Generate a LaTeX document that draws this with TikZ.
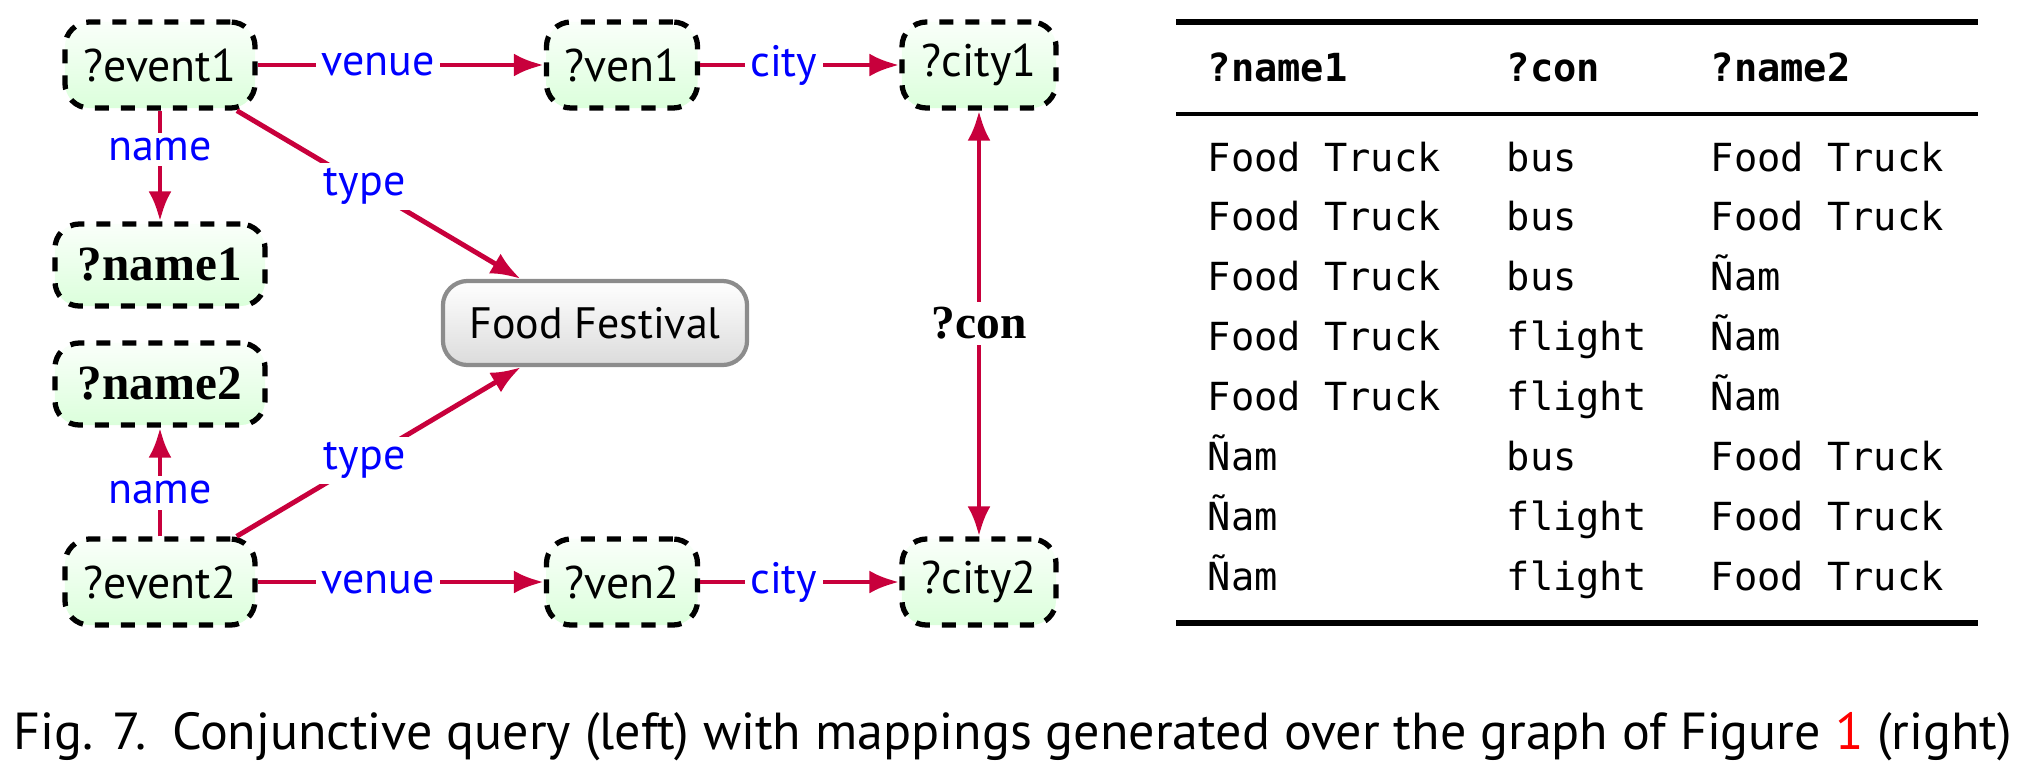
\documentclass[tikz,border=0pt]{standalone}
\usepackage{fontspec}
\setmainfont{Liberation Serif}
\setsansfont{PT Sans}
\setmonofont{DejaVu Sans Mono}
\usetikzlibrary{arrows.meta}
\definecolor{edgered}{RGB}{200,0,60}
\definecolor{lblblue}{RGB}{0,0,255}

\begin{document}
\begin{tikzpicture}[x=0.01cm,y=-0.01cm,
        var/.style={draw=black,line width=1.5pt,dash pattern=on 4pt off 3.4pt,
                rounded corners=7pt,top color=green!2,bottom color=green!14,
                font=\sffamily\fontsize{13}{15}\selectfont,
                minimum height=0.86cm,inner sep=0pt},
        outvar/.style={var,font=\bfseries\fontsize{14}{16}\selectfont,
                minimum width=2.1cm,minimum height=0.82cm},
        lit/.style={draw=gray!90,line width=1.2pt,rounded corners=7pt,
                top color=white,bottom color=gray!28,
                font=\sffamily\fontsize{12.5}{14}\selectfont,
                minimum width=3.04cm,minimum height=0.84cm},
        edge/.style={draw=edgered,line width=1.4pt,-{Latex[length=8.5pt,width=6.5pt]}},
        lbl/.style={fill=white,inner sep=1.5pt,text=lblblue,
                font=\sffamily\fontsize{12.5}{14}\selectfont},
        cell/.style={anchor=base west,inner sep=0pt,font=\ttfamily\fontsize{11}{13}\selectfont}]
        \useasboundingbox (0,0) rectangle (2027,766);

        % query graph
        \node [var,minimum width=1.9cm] (event1) at (160,65) {?event1};
        \node [var,minimum width=1.51cm] (ven1) at (622,65) {?ven1};
        \node [var,minimum width=1.54cm] (city1) at (979,65) {?city1};
        \node [outvar] (name1) at (160,265) {?name1};
        \node [outvar] (name2) at (160,384) {?name2};
        \node [lit] (food) at (595,323) {Food Festival};
        \node [var,minimum width=1.9cm] (event2) at (160,582) {?event2};
        \node [var,minimum width=1.51cm] (ven2) at (622,582) {?ven2};
        \node [var,minimum width=1.54cm] (city2) at (979,582) {?city2};

        \draw [edge] (event1) -- node [lbl,pos=0.42] {venue} (ven1);
        \draw [edge] (ven1) -- node [lbl,pos=0.42] {city} (city1);
        \draw [edge] (event1) -- node [lbl,pos=0.35] {name} (name1);
        \draw [edge] (event1) -- node [lbl,pos=0.45] {type} (food);
        \draw [edge] (event2) -- node [lbl,pos=0.4] {name} (name2);
        \draw [edge] (event2) -- node [lbl,pos=0.45] {type} (food);
        \draw [edge] (event2) -- node [lbl,pos=0.42] {venue} (ven2);
        \draw [edge] (ven2) -- node [lbl,pos=0.42] {city} (city2);
        \draw [edge,{Latex[length=8.5pt,width=6.5pt]}-{Latex[length=8.5pt,width=6.5pt]}] (city1) --
                node [fill=white,inner sep=1.5pt,font=\bfseries\fontsize{13.5}{15}\selectfont] {?con} (city2);

        % mappings table
        \draw [line width=1.6pt] (1176,22) -- (1978,22);
        \draw [line width=0.9pt] (1176,114) -- (1978,114);
        \draw [line width=1.6pt] (1176,623) -- (1978,623);
        \node [cell,font=\ttfamily\bfseries\fontsize{11}{13}\selectfont] (h1) at (1207,81) {?name1};
        \node [cell,font=\ttfamily\bfseries\fontsize{11}{13}\selectfont] (h2) at (1506,81) {?con};
        \node [cell,font=\ttfamily\bfseries\fontsize{11}{13}\selectfont] (h3) at (1710,81) {?name2};
        \foreach \a/\b/\c [count=\i] in {Food Truck/bus/Food Truck,Food Truck/bus/Food Truck,
                Food Truck/bus/Ñam,Food Truck/flight/Ñam,Food Truck/flight/Ñam,
                Ñam/bus/Food Truck,Ñam/flight/Food Truck,Ñam/flight/Food Truck} {
                \node [cell] (a\i) at (1207,171+59.9*\i-59.9) {\a};
                \node [cell] (b\i) at (1506,171+59.9*\i-59.9) {\b};
                \node [cell] (c\i) at (1710,171+59.9*\i-59.9) {\c};
        }

        % caption
        \node [font=\sffamily\fontsize{14.8}{17}\selectfont,inner sep=0pt] (caption) at (1013,737)
                {Fig. 7.\enspace Conjunctive query (left) with mappings generated over the graph of Figure \textcolor{red}{1} (right)};
\end{tikzpicture}
\end{document}
